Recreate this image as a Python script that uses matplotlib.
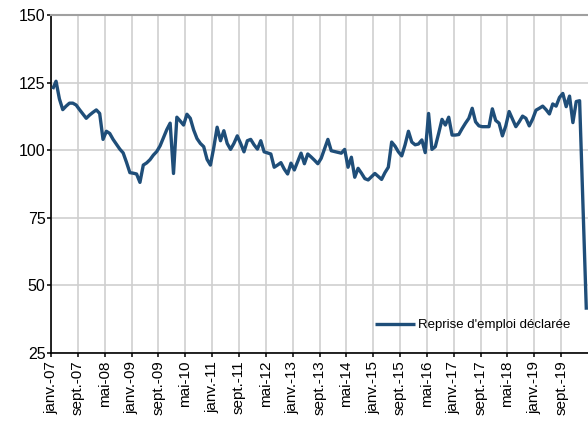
import matplotlib
matplotlib.use("Agg")
import matplotlib.pyplot as plt
import numpy as np

plt.rcParams['font.family'] = ['Liberation Sans', 'DejaVu Sans']

# Monthly index, Jan 2007 -> Apr 2020
values = [
    122.6, 125.5, 119.0, 115.0, 116.3, 117.4, 117.4, 116.7, 115.0, 113.4,
    111.8, 113.0, 114.0, 114.9, 113.6, 104.0, 107.0, 106.2, 104.0, 102.2,
    100.4, 99.0, 95.5, 91.7, 91.5, 91.2, 88.1, 94.5, 95.3, 96.5,
    98.2, 99.5, 101.6, 104.6, 107.6, 110.0, 91.4, 112.2, 110.8, 109.3,
    113.3, 111.8, 107.5, 104.3, 102.5, 101.3, 96.6, 94.5, 101.0, 108.5,
    103.5, 107.2, 102.5, 100.3, 102.5, 105.3, 102.5, 99.4, 103.5, 104.0,
    102.0, 100.4, 103.5, 99.4, 99.0, 98.6, 93.7, 94.5, 95.4, 93.0,
    91.2, 95.2, 92.7, 95.8, 98.9, 95.0, 98.6, 97.5, 96.3, 95.0,
    97.0, 100.5, 104.0, 99.8, 99.5, 99.2, 98.9, 100.3, 93.7, 97.4,
    90.0, 93.3, 91.5, 89.5, 89.0, 90.2, 91.4, 90.3, 89.2, 91.7,
    93.7, 103.0, 101.5, 99.4, 97.9, 102.0, 107.0, 103.0, 102.0, 102.3,
    103.8, 99.1, 113.6, 100.3, 101.3, 106.2, 111.4, 109.3, 112.2, 105.6,
    105.6, 105.8, 108.0, 110.0, 111.8, 115.5, 110.5, 109.0, 108.7, 108.7,
    108.7, 115.3, 111.0, 110.0, 105.3, 109.0, 114.3, 111.5, 108.7, 110.5,
    112.6, 111.8, 109.0, 111.5, 114.8, 115.5, 116.3, 115.0, 113.4, 117.1,
    116.3, 119.5, 121.0, 116.1, 120.0, 110.2, 118.0, 118.3, 80.0, 41.0,
]

tick_labels = [
    "janv.-07", "sept.-07", "mai-08", "janv.-09", "sept.-09", "mai-10",
    "janv.-11", "sept.-11", "mai-12", "janv.-13", "sept.-13", "mai-14",
    "janv.-15", "sept.-15", "mai-16", "janv.-17", "sept.-17", "mai-18",
    "janv.-19", "sept.-19",
]
tick_step = 8
y_ticks = [25, 50, 75, 100, 125, 150]
series_name = "Reprise d'emploi déclarée"

W, H = 588, 421
fig = plt.figure(figsize=(W / 100, H / 100), dpi=100)
ax = fig.add_axes([51 / W, 1 - 353 / H, (588 - 51) / W, (353 - 15) / H])

x = np.arange(len(values))
ax.plot(x, values, color='#1f4e79', lw=2.4, solid_joinstyle='round',
        solid_capstyle='butt', label=series_name, zorder=3)

tick_pos = np.arange(len(tick_labels)) * tick_step - 0.5
ax.set_xticks(tick_pos)
ax.set_xticklabels(tick_labels, rotation=90, fontsize=11, va='top', ha='center')
ax.set_xlim(-0.5, 159.5)
ax.set_ylim(25, 150)
ax.set_yticks(y_ticks)
ax.set_yticklabels([str(v) for v in y_ticks], fontsize=11.5)

ax.grid(True, color='#cfcfcf', lw=1.2, zorder=0)
ax.set_axisbelow(True)

for s in ['left', 'bottom']:
    ax.spines[s].set_color('black')
    ax.spines[s].set_linewidth(1.2)
ax.spines['right'].set_visible(False)
ax.spines['top'].set_color('#a0a0a0')
ax.spines['top'].set_linewidth(1.5)

ax.tick_params(axis='x', direction='out', length=3, width=1.1, pad=2.5, colors='black')
ax.tick_params(axis='y', direction='out', length=3, width=1.1, pad=1, colors='black')

leg = ax.legend(loc='center left', bbox_to_anchor=((375 - 51) / 537, (353 - 325) / 338),
                frameon=False, fontsize=9.5, handlelength=3.0, handletextpad=0.25,
                borderpad=0, borderaxespad=0)

fig.savefig('out.png', dpi=100)
